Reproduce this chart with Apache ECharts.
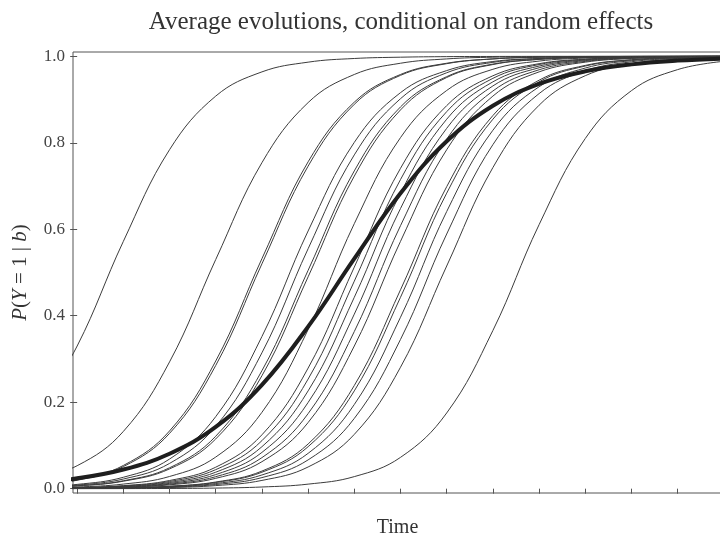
<!DOCTYPE html>
<html>
<head>
<meta charset="utf-8">
<script src="https://cdn.jsdelivr.net/npm/echarts@6/dist/echarts.min.js"></script>
<style>
  html, body { margin: 0; padding: 0; background: #fff; }
  #chart { width: 720px; height: 537px; }
</style>
</head>
<body>
<div id="chart"></div>
<script>
// time points (one per tick, plus one before the axis start so lines reach the frame)
var times = [-1, 0, 1, 2, 3, 4, 5, 6, 7, 8, 9, 10, 11, 12, 13, 14]
var xTicks = [0, 1, 2, 3, 4, 5, 6, 7, 8, 9, 10, 11, 12, 13]
var yTicks = [0, 0.2, 0.4, 0.6, 0.8, 1.0]

// P(Y = 1 | b) for each subject at each time point
var subjectCurves = [
  [0.153, 0.330, 0.572, 0.784, 0.908, 0.964, 0.9865, 0.995, 0.998, 0.9993, 0.9997, 0.9999, 1, 1, 1, 1],
  [0.0202, 0.0531, 0.1324, 0.2932, 0.530, 0.754, 0.893, 0.958, 0.984, 0.994, 0.998, 0.999, 0.9996, 0.9999, 1, 1],
  [0.0076, 0.0204, 0.0537, 0.1335, 0.2953, 0.532, 0.756, 0.894, 0.958, 0.984, 0.994, 0.998, 0.999, 0.9997, 0.9999, 1],
  [0.0072, 0.0195, 0.0511, 0.1279, 0.285, 0.520, 0.746, 0.889, 0.956, 0.983, 0.994, 0.998, 0.999, 0.9997, 0.9999, 1],
  [0.0036, 0.0099, 0.0264, 0.0685, 0.1666, 0.352, 0.596, 0.801, 0.916, 0.967, 0.988, 0.995, 0.998, 0.9994, 0.9998, 1],
  [0.0031, 0.0083, 0.0223, 0.0584, 0.1443, 0.3143, 0.555, 0.772, 0.902, 0.962, 0.986, 0.995, 0.998, 0.999, 0.9997, 1],
  [0.0025, 0.0068, 0.0183, 0.0483, 0.1213, 0.2729, 0.505, 0.735, 0.883, 0.953, 0.982, 0.993, 0.9976, 0.9991, 0.9997, 1],
  [0.0024, 0.0064, 0.0173, 0.0457, 0.1150, 0.2612, 0.490, 0.723, 0.876, 0.951, 0.981, 0.993, 0.9974, 0.999, 0.9996, 1],
  [0.0014, 0.0039, 0.0106, 0.0282, 0.0731, 0.1766, 0.368, 0.613, 0.812, 0.921, 0.970, 0.989, 0.996, 0.9984, 0.9994, 0.9998],
  [0.0010, 0.0026, 0.0070, 0.0189, 0.0497, 0.1246, 0.2789, 0.5125, 0.741, 0.886, 0.955, 0.983, 0.9936, 0.9976, 0.9991, 0.9997],
  [0.0008, 0.0023, 0.0062, 0.0166, 0.0440, 0.1111, 0.2535, 0.480, 0.715, 0.872, 0.949, 0.981, 0.9928, 0.9973, 0.999, 0.9996],
  [0.0007, 0.0020, 0.0053, 0.0143, 0.0381, 0.0971, 0.2262, 0.4427, 0.6835, 0.8545, 0.941, 0.9775, 0.9916, 0.9969, 0.9989, 0.9996],
  [0.0006, 0.0017, 0.0045, 0.0122, 0.0326, 0.0839, 0.1994, 0.4037, 0.648, 0.8334, 0.9315, 0.9736, 0.9901, 0.9964, 0.9987, 0.9995],
  [0.0005, 0.0014, 0.0038, 0.0104, 0.0277, 0.0718, 0.1736, 0.3635, 0.6083, 0.8085, 0.9198, 0.9689, 0.9883, 0.9957, 0.9984, 0.9994],
  [0.0004, 0.0012, 0.0033, 0.0089, 0.0239, 0.0624, 0.153, 0.330, 0.572, 0.784, 0.908, 0.964, 0.9865, 0.995, 0.998, 0.9993],
  [0.0003, 0.0008, 0.0021, 0.0057, 0.0154, 0.0407, 0.1034, 0.2387, 0.460, 0.6985, 0.863, 0.9448, 0.979, 0.9922, 0.9971, 0.9989],
  [0.0003, 0.0007, 0.0020, 0.0053, 0.0143, 0.0381, 0.0971, 0.2262, 0.4427, 0.6835, 0.8545, 0.941, 0.9775, 0.9916, 0.9969, 0.9989],
  [0.0002, 0.0006, 0.0016, 0.0044, 0.0119, 0.0317, 0.0817, 0.1947, 0.3965, 0.641, 0.829, 0.9296, 0.9729, 0.9899, 0.9962, 0.9986],
  [0.0002, 0.0005, 0.0013, 0.0035, 0.0096, 0.0256, 0.0666, 0.1625, 0.3452, 0.589, 0.7957, 0.9138, 0.9664, 0.9874, 0.9953, 0.9983],
  [0.0001, 0.0004, 0.0010, 0.0026, 0.0071, 0.0191, 0.0502, 0.1256, 0.2809, 0.515, 0.7427, 0.8869, 0.9552, 0.983, 0.9937, 0.9977],
  [0.0000, 0.0001, 0.0002, 0.0005, 0.0014, 0.0039, 0.0105, 0.0279, 0.0724, 0.1751, 0.3658, 0.6106, 0.8099, 0.9206, 0.9693, 0.9885]
]

// the thick average curve
var averageCurve = [0.0127, 0.0239, 0.0443, 0.0808, 0.1428, 0.2401, 0.3747, 0.532, 0.6831, 0.8035, 0.8857, 0.9363, 0.9653, 0.9814, 0.9901, 0.9948]

var SERIF = '"Liberation Serif", "DejaVu Serif", serif'

function pairs (vals) {
  return times.map(function (t, i) { return [t, vals[i]] })
}

var series = subjectCurves.map(function (c, i) {
  return {
    type: 'line',
    name: 'subject ' + (i + 1),
    data: pairs(c),
    showSymbol: false,
    symbol: 'none',
    smooth: 0.4,
    clip: true,
    lineStyle: { color: '#3c3c3c', width: 1 },
    silent: true,
    z: 2
  }
})
series.push({
  type: 'line',
  name: 'average',
  data: pairs(averageCurve),
  showSymbol: false,
  symbol: 'none',
  smooth: 0.4,
  clip: true,
  lineStyle: { color: '#1e1e1e', width: 4 },
  silent: true,
  z: 3
})

var chart = echarts.init(document.getElementById('chart'), null, { renderer: 'canvas' })
chart.setOption({
  animation: false,
  backgroundColor: '#fff',
  title: {
    text: 'Average evolutions, conditional on random effects',
    left: 401,
    top: 10,
    padding: 0,
    textAlign: 'center',
    textStyle: { fontFamily: SERIF, fontWeight: 'normal', fontSize: 25, color: '#333' }
  },
  grid: {
    left: 73,
    right: -2,
    top: 52,
    bottom: 44,
    containLabel: false,
    outerBoundsMode: 'none',
    show: true,
    borderColor: '#555',
    borderWidth: 1,
    backgroundColor: 'transparent'
  },
  xAxis: {
    type: 'value',
    min: -0.09,
    max: 13.96,
    name: 'Time',
    nameLocation: 'middle',
    nameGap: 25,
    nameTextStyle: { fontFamily: SERIF, fontSize: 20, color: '#333' },
    axisLine: { show: false },
    splitLine: { show: false },
    axisTick: { show: true, length: 5, customValues: xTicks, lineStyle: { color: '#555' } },
    axisLabel: { show: false, customValues: xTicks }
  },
  yAxis: {
    type: 'value',
    min: -0.01,
    max: 1.01,
    name: '{it|P}({it|Y} = 1 | {it|b})',
    nameLocation: 'middle',
    nameRotate: 90,
    nameGap: 42,
    nameTextStyle: {
      fontFamily: SERIF,
      fontSize: 21,
      color: '#333',
      rich: { it: { fontFamily: SERIF, fontSize: 21, fontStyle: 'italic', color: '#333' } }
    },
    axisLine: { show: false },
    splitLine: { show: false },
    axisTick: { show: true, length: 7, customValues: yTicks, lineStyle: { color: '#555' } },
    axisLabel: {
      customValues: yTicks,
      margin: 8,
      fontFamily: SERIF,
      fontSize: 17,
      color: '#444',
      formatter: function (v) { return v.toFixed(1) }
    }
  },
  series: series
})
</script>
</body>
</html>
